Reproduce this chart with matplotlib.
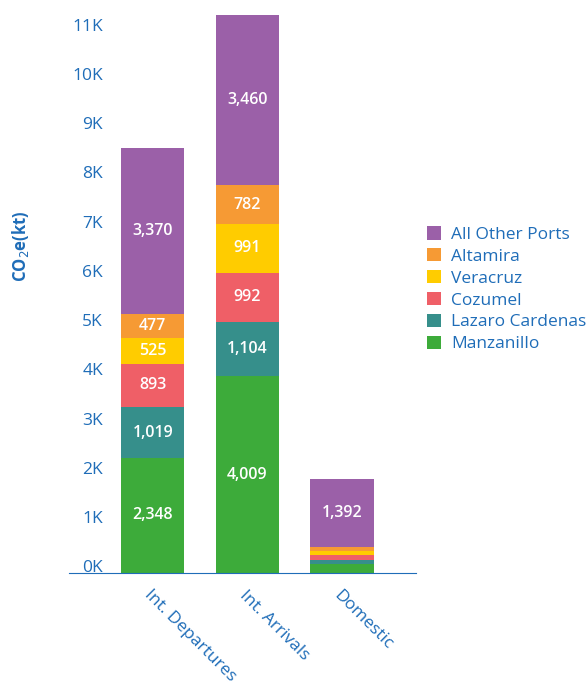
import numpy as np
import matplotlib.pyplot as plt
import matplotlib.transforms as mtransforms

categories = ['Int. Departures', 'Int. Arrivals', 'Domestic']
ports = ['Manzanillo', 'Lazaro Cardenas', 'Cozumel', 'Veracruz', 'Altamira', 'All Other Ports']
values = {
    'Manzanillo':      [2348, 4009, 180],
    'Lazaro Cardenas': [1019, 1104, 95],
    'Cozumel':         [893, 992, 90],
    'Veracruz':        [525, 991, 95],
    'Altamira':        [477, 782, 65],
    'All Other Ports': [3370, 3460, 1392],
}
yticks = np.arange(0, 12000, 1000)
ytick_labels = [f'{i}K' for i in range(12)]
colors = ['#3dab3a', '#368f8b', '#ef5f67', '#ffcc00', '#f69a34', '#9b60a8']
blue = '#1f6db8'

plt.rcParams['font.family'] = ['Open Sans', 'DejaVu Sans']

fig = plt.figure(figsize=(5.87, 6.84), dpi=100)
ax = fig.add_axes([0.1175, 0.162, 0.591, 0.816])

x = np.arange(len(categories))
bottom = np.zeros(len(categories))
for port, col in zip(ports, colors):
    v = np.array(values[port])
    ax.bar(x, v, 0.67, bottom=bottom, color=col, label=port)
    for xi, b, val in zip(x, bottom, v):
        if val > 400:
            ax.text(xi, b + val / 2, f'{val:,}', ha='center', va='center',
                    color='white', fontsize=11.5, fontweight='semibold')
    bottom += v

ax.set_xlim(-0.884, 2.78)
ax.set_ylim(0, 11340)

# y tick labels drawn by hand, sitting inside the axes and a bit above each tick
ax.set_yticks([])
shift = mtransforms.ScaledTranslation(0, 5 / 100, fig.dpi_scale_trans)
for t, lab in zip(yticks, ytick_labels):
    ax.text(0.098, t, lab, ha='right', va='center', color=blue, fontsize=12.5,
            transform=ax.get_yaxis_transform() + shift)

ax.set_xticks(x)
ax.set_xticklabels(categories, rotation=-45, ha='left', rotation_mode='anchor')
ax.tick_params(axis='both', length=0, colors=blue, labelsize=12.5)
ax.tick_params(axis='x', pad=10)
for s in ['top', 'right', 'left']:
    ax.spines[s].set_visible(False)
ax.spines['bottom'].set_color(blue)
ax.set_ylabel('CO$_2$e(kt)', color=blue, fontsize=12, fontweight='bold', va='center')
ax.yaxis.set_label_coords(-0.141, 0.586)

h, l = ax.get_legend_handles_labels()
leg = fig.legend(h[::-1], l[::-1], loc='center left', bbox_to_anchor=(0.715, 0.577),
                 frameon=False, fontsize=12.5, handlelength=0.8, handleheight=0.8,
                 handletextpad=0.6, labelspacing=0.3, borderaxespad=0)
for t in leg.get_texts():
    t.set_color(blue)

fig.savefig('out.png')
